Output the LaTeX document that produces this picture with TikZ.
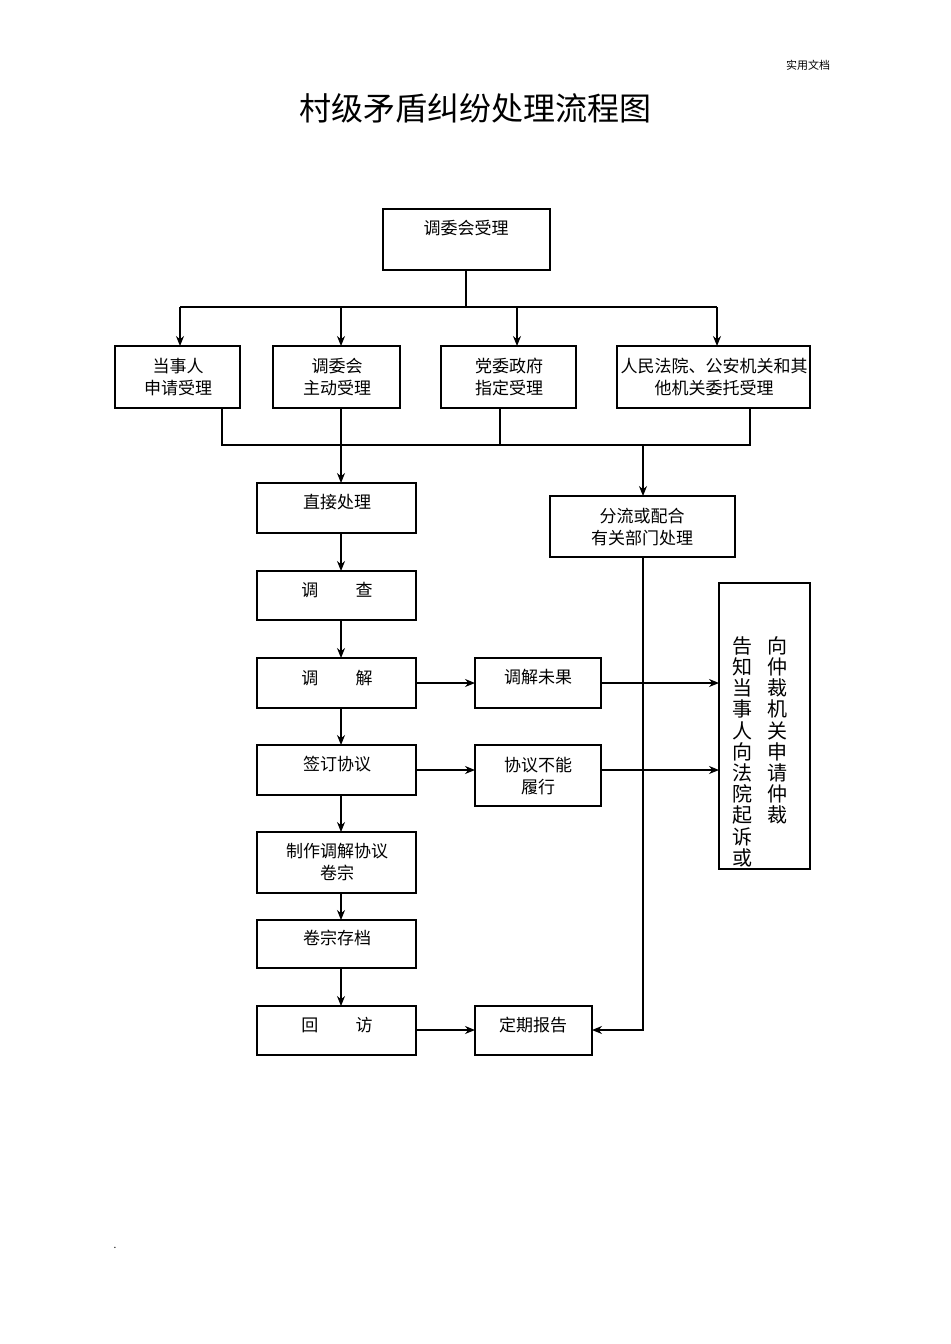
\documentclass[tikz,border=0pt]{standalone}
\usepackage{fontspec}
\setmainfont{Noto Sans CJK SC}
\usetikzlibrary{arrows.meta}
\begin{document}
\begin{tikzpicture}[x=0.5pt,y=-0.5pt,
  bx/.style={draw,line width=0.6pt},
  t/.style={font=\fontsize{8.5}{11}\selectfont,align=center,inner sep=0pt},
  ln/.style={line width=0.6pt},
  ar/.style={line width=0.6pt,-{Stealth[length=5pt,width=4pt]}},
  sh/.style={line width=1.4pt}]
\useasboundingbox (0,0) rectangle (950,1344);
\node[font=\fontsize{5.5}{7}\selectfont] (doc) at (808,65) {实用文档};
\node[font=\fontsize{16}{20}\selectfont] (title) at (475,108) {村级矛盾纠纷处理流程图};
\node[font=\tiny] (dot) at (115,1248) {.};
% top box
\draw[bx] (383,209) rectangle (550,270);
\node[t] (top) at (466,228) {调委会受理};
\coordinate (topb) at (466,270);
% row boxes
\draw[bx] (115,346) rectangle (240,408); \draw[sh] (240,346)--(240,408)--(115,408);
\node[t] (a) at (178,377) {当事人\\申请受理};
\draw[bx] (273,346) rectangle (400,408); \draw[sh] (400,346)--(400,408)--(273,408);
\node[t] (b) at (337,377) {调委会\\主动受理};
\draw[bx] (441,346) rectangle (576,408); \draw[sh] (576,346)--(576,408)--(441,408);
\node[t] (c) at (509,377) {党委政府\\指定受理};
\draw[bx] (617,346) rectangle (810,408); \draw[sh] (810,346)--(810,408)--(617,408);
\node[t] (d) at (714,377) {人民法院、公安机关和其\\他机关委托受理};
\coordinate (s) at (466,307);
\draw[ln] (topb)--(s);
\draw[ln] (180,307)--(717,307);
\coordinate (a1) at (180,307); \coordinate (a2) at (180,346);
\coordinate (b1) at (341,307); \coordinate (b2) at (341,346);
\coordinate (c1) at (517,307); \coordinate (c2) at (517,346);
\coordinate (d1) at (717,307); \coordinate (d2) at (717,346);
\draw[ar] (a1)--(a2); \draw[ar] (b1)--(b2); \draw[ar] (c1)--(c2); \draw[ar] (d1)--(d2);
% collect line
\draw[ln] (222,408)--(222,445)--(750,445)--(750,408);
\draw[ln] (341,408)--(341,445); \draw[ln] (500,408)--(500,445);
\coordinate (m1) at (341,445); \coordinate (m2) at (643,445);
% left column
\draw[bx] (257,483) rectangle (416,533); \node[t] (zj) at (337,502) {直接处理};
\draw[bx] (550,496) rectangle (735,557); \node[t] (fl) at (642,527) {分流或配合\\有关部门处理};
\draw[bx] (257,571) rectangle (416,620); \node[t] (dc) at (337,590) {调\hspace{2.2em}查};
\draw[bx] (257,658) rectangle (416,708); \node[t] (tj) at (337,678) {调\hspace{2.2em}解};
\draw[bx] (257,745) rectangle (416,795); \node[t] (qd) at (337,764) {签订协议};
\draw[bx] (257,832) rectangle (416,893); \node[t] (zz) at (337,862) {制作调解协议\\卷宗};
\draw[bx] (257,920) rectangle (416,968); \node[t] (jz) at (337,938) {卷宗存档};
\draw[bx] (257,1006) rectangle (416,1055); \node[t] (hf) at (337,1025) {回\hspace{2.2em}访};
\draw[bx] (475,658) rectangle (601,708); \node[t] (wg) at (538,677) {调解未果};
\draw[bx] (475,745) rectangle (601,806); \node[t] (bn) at (538,776) {协议不能\\履行};
\draw[bx] (475,1006) rectangle (592,1055); \node[t] (dq) at (533,1025) {定期报告};
\draw[bx] (719,583) rectangle (810,869); \draw[sh] (810,583)--(810,869);
\node[font=\fontsize{10}{10.6}\selectfont,align=center,inner sep=0pt,anchor=north] (r1) at (777,636) {向\\仲\\裁\\机\\关\\申\\请\\仲\\裁};
\node[font=\fontsize{10}{10.6}\selectfont,align=center,inner sep=0pt,anchor=north] (r2) at (742,636) {告\\知\\当\\事\\人\\向\\法\\院\\起\\诉\\或};
% arrows
\draw[ar] (m1)--(341,483);
\draw[ar] (m2)--(643,496);
\draw[ar] (341,533)--(341,571);
\draw[ar] (341,620)--(341,658);
\draw[ar] (341,708)--(341,745);
\draw[ar] (341,795)--(341,832);
\draw[ar] (341,893)--(341,920);
\draw[ar] (341,968)--(341,1006);
\draw[ar] (416,683)--(475,683);
\draw[ar] (601,683)--(719,683);
\draw[ar] (416,770)--(475,770);
\draw[ar] (601,770)--(719,770);
\draw[ar] (416,1030)--(475,1030);
\draw[ar] (643,557)--(643,1030)--(592,1030);
\end{tikzpicture}
\end{document}
